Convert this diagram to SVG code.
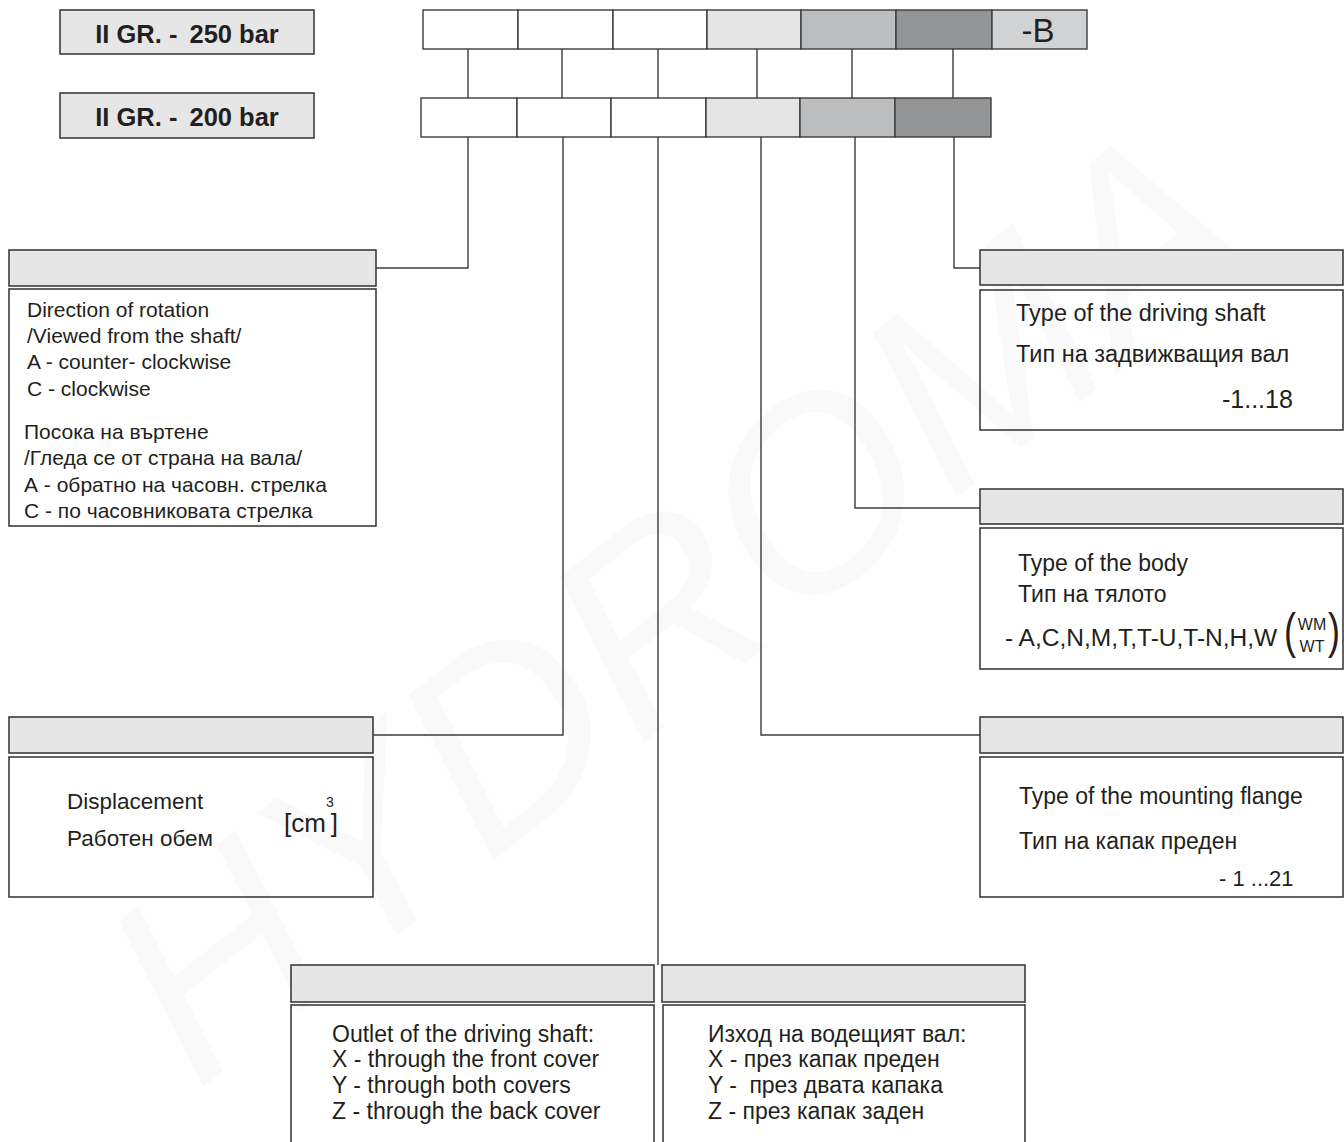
<svg xmlns="http://www.w3.org/2000/svg" width="1344" height="1142" viewBox="0 0 1344 1142">
<style>
.t{font-family:"Liberation Sans",Arial,"Noto Sans",sans-serif;fill:#231f20}
.b{font-weight:bold}
.hd{fill:#e6e6e7;stroke:#3c3c3c;stroke-width:1.6}
.bd{fill:none;stroke:#3c3c3c;stroke-width:1.6}
.cell{stroke:#3c3c3c;stroke-width:1.4}
.c0{fill:#ffffff}.c1{fill:#e5e5e6}.c2{fill:#bcbdbf}.c3{fill:#939496}.c4{fill:#d1d2d4}
.ln{fill:none;stroke:#3c3c3c;stroke-width:1.4}
.wm{font-family:"Liberation Sans",sans-serif;font-style:italic;fill:#000000;fill-opacity:0.025}
</style>
<rect x="0" y="0" width="1344" height="1142" fill="#ffffff"/>
<text class="wm" transform="translate(672,600) rotate(-38)" text-anchor="middle" y="95" font-size="265">HYDROMA</text>

<g id="connectors">
<path class="ln" d="M468 49V98M562 49V98M658 49V98M757 49V98M852 49V98M953 49V98"/>
<path class="ln" d="M468 137V268H376"/>
<path class="ln" d="M563 137V735H373"/>
<path class="ln" d="M658 137V965"/>
<path class="ln" d="M761 137V735H980"/>
<path class="ln" d="M855 137V508H980"/>
<path class="ln" d="M954 137V268H980"/>
</g>

<g id="grade250">
<rect class="hd" x="60" y="10" width="254" height="44"/>
<text class="t b" x="187" y="43" font-size="25.5" text-anchor="middle">II GR. - <tspan dx="5">250 bar</tspan></text>
</g>
<g id="grade200">
<rect class="hd" x="60" y="93" width="254" height="45"/>
<text class="t b" x="187" y="126" font-size="25.5" text-anchor="middle">II GR. - <tspan dx="5">200 bar</tspan></text>
</g>

<g id="code250">
<rect class="cell c0" x="423" y="10" width="95" height="39"/>
<rect class="cell c0" x="518" y="10" width="95" height="39"/>
<rect class="cell c0" x="613" y="10" width="94" height="39"/>
<rect class="cell c1" x="707" y="10" width="94" height="39"/>
<rect class="cell c2" x="801" y="10" width="95" height="39"/>
<rect class="cell c3" x="896" y="10" width="96" height="39"/>
<rect class="cell c4" x="992" y="10" width="95" height="39"/>
<text class="t" x="1038" y="42" font-size="33" text-anchor="middle">-B</text>
</g>
<g id="code200">
<rect class="cell c0" x="421" y="98" width="96" height="39"/>
<rect class="cell c0" x="517" y="98" width="94" height="39"/>
<rect class="cell c0" x="611" y="98" width="95" height="39"/>
<rect class="cell c1" x="706" y="98" width="94" height="39"/>
<rect class="cell c2" x="800" y="98" width="95" height="39"/>
<rect class="cell c3" x="895" y="98" width="96" height="39"/>
</g>

<g id="rotation">
<rect class="hd" x="9" y="250" width="367" height="36"/>
<rect class="bd" x="9" y="289" width="367" height="237"/>
<g class="t" font-size="21">
<text x="27" y="317">Direction of rotation</text>
<text x="27" y="343">/Viewed from the shaft/</text>
<text x="27" y="369">A - counter- clockwise</text>
<text x="27" y="396">C - clockwise</text>
<text x="24" y="439">Посока на въртене</text>
<text x="24" y="465">/Гледа се от страна на вала/</text>
<text x="24" y="492">А - обратно на часовн. стрелка</text>
<text x="24" y="518">С - по часовниковата стрелка</text>
</g>
</g>

<g id="displacement">
<rect class="hd" x="9" y="717" width="364" height="36"/>
<rect class="bd" x="9" y="757" width="364" height="140"/>
<g class="t" font-size="22.5">
<text x="67" y="809">Displacement</text>
<text x="67" y="846">Работен обем</text>
<text x="284" y="832" font-size="26">[cm<tspan dy="-25" font-size="14">3</tspan><tspan dy="25" dx="-3">]</tspan></text>
</g>
</g>

<g id="shaft">
<rect class="hd" x="980" y="250" width="363" height="35"/>
<rect class="bd" x="980" y="290" width="363" height="140"/>
<g class="t" font-size="23.5">
<text x="1016" y="321">Type of the driving shaft</text>
<text x="1016" y="362">Тип на задвижващия вал</text>
<text x="1222" y="408" font-size="25">-1...18</text>
</g>
</g>

<g id="body">
<rect class="hd" x="980" y="489" width="363" height="35"/>
<rect class="bd" x="980" y="528" width="363" height="141"/>
<g class="t" font-size="23">
<text x="1005" y="646" font-size="24.5">- A,C,N,M,T,T-U,T-N,H,W</text>
<text x="1018" y="571">Type of the body</text>
<text x="1018" y="602">Тип на тялото</text>
<text transform="translate(1284,648) scale(0.72,1)" font-size="50">(</text>
<text x="1312" y="630" font-size="16" text-anchor="middle">WM</text>
<text x="1312" y="652" font-size="16" text-anchor="middle">WT</text>
<text transform="translate(1328,648) scale(0.72,1)" font-size="50">)</text>
</g>
</g>

<g id="flange">
<rect class="hd" x="980" y="717" width="363" height="36"/>
<rect class="bd" x="980" y="757" width="363" height="140"/>
<g class="t" font-size="23">
<text x="1019" y="804">Type of the mounting flange</text>
<text x="1019" y="849">Тип на капак преден</text>
<text x="1219" y="886" font-size="22">- 1 ...21</text>
</g>
</g>

<g id="outlet-en">
<rect class="hd" x="291" y="965" width="363" height="37"/>
<rect class="bd" x="291" y="1005" width="363" height="160"/>
<g class="t" font-size="23">
<text x="332" y="1042">Outlet of the driving shaft:</text>
<text x="332" y="1067">X - through the front cover</text>
<text x="332" y="1093">Y - through both covers</text>
<text x="332" y="1119">Z - through the back cover</text>
</g>
</g>

<g id="outlet-bg">
<rect class="hd" x="662" y="965" width="363" height="37"/>
<rect class="bd" x="663" y="1005" width="362" height="160"/>
<g class="t" font-size="23">
<text x="708" y="1042">Изход на водещият вал:</text>
<text x="708" y="1067">X - през капак преден</text>
<text x="708" y="1093">Y - <tspan dx="6">през двата капака</tspan></text>
<text x="708" y="1119">Z - през капак заден</text>
</g>
</g>
</svg>
